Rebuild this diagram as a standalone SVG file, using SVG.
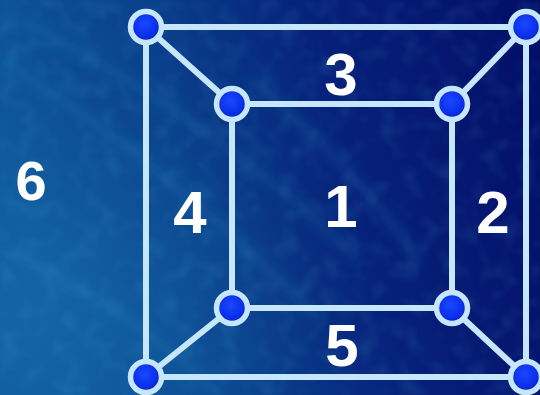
<svg xmlns="http://www.w3.org/2000/svg" width="540" height="395" viewBox="0 0 540 395">
  <defs>
    <linearGradient id="bg" x1="0" y1="0.3" x2="1" y2="0.1">
      <stop offset="0" stop-color="#0e5699"/>
      <stop offset="0.3" stop-color="#0a418c"/>
      <stop offset="0.6" stop-color="#06217a"/>
      <stop offset="1" stop-color="#030e68"/>
    </linearGradient>
    <radialGradient id="glow" cx="0.05" cy="0.8" r="0.55">
      <stop offset="0" stop-color="#1a74b2" stop-opacity="0.5"/>
      <stop offset="1" stop-color="#1a74b2" stop-opacity="0"/>
    </radialGradient>
    <radialGradient id="nodeFill" cx="0.45" cy="0.4" r="0.6">
      <stop offset="0" stop-color="#1a48ff"/>
      <stop offset="0.7" stop-color="#0a2ee8"/>
      <stop offset="1" stop-color="#0620b8"/>
    </radialGradient>
    <filter id="blur" x="-20%" y="-20%" width="140%" height="140%">
      <feGaussianBlur stdDeviation="6"/>
    </filter>
    <filter id="noise" x="0" y="0" width="100%" height="100%">
      <feTurbulence type="fractalNoise" baseFrequency="0.05" numOctaves="2" seed="3" result="n"/>
      <feColorMatrix in="n" type="matrix" values="0 0 0 0 0.1  0 0 0 0 0.5  0 0 0 0 0.7  0 0 0 1.2 -0.55" result="c"/>
      <feGaussianBlur in="c" stdDeviation="1.5"/>
    </filter>
    <style>
      .edge { stroke: #c6e6fb; stroke-width: 6; fill: none; stroke-linecap: round; }
      .node { fill: url(#nodeFill); stroke: #c6e6fb; stroke-width: 5.5; }
      .lbl { font-family: "Liberation Sans", Arial, sans-serif; font-weight: bold; font-size: 60px; fill: #ffffff; text-anchor: middle; }
    </style>
  </defs>

  <g id="background">
    <rect width="540" height="395" fill="url(#bg)"/>
    <rect width="540" height="395" fill="url(#glow)"/>
    <rect width="540" height="395" filter="url(#noise)" opacity="0.25"/>
    <g filter="url(#blur)" stroke="#2a8cc0" stroke-opacity="0.2" fill="none" stroke-width="10">
      <path d="M0 60 Q150 150 320 320"/>
      <path d="M20 20 Q200 110 360 260"/>
      <path d="M0 250 Q120 300 220 395"/>
      <path d="M250 80 Q330 140 420 260"/>
    </g>
  </g>

  <g id="connectors">
    <line class="edge" x1="146" y1="27" x2="526" y2="27"/>
    <line class="edge" x1="146" y1="377" x2="526" y2="377"/>
    <line class="edge" x1="146" y1="27" x2="146" y2="377"/>
    <line class="edge" x1="526" y1="27" x2="526" y2="377"/>
    <line class="edge" x1="232" y1="104" x2="452" y2="104"/>
    <line class="edge" x1="232" y1="308" x2="452" y2="308"/>
    <line class="edge" x1="232" y1="104" x2="232" y2="308"/>
    <line class="edge" x1="452" y1="104" x2="452" y2="308"/>
    <line class="edge" x1="146" y1="27" x2="232" y2="104"/>
    <line class="edge" x1="526" y1="27" x2="452" y2="104"/>
    <line class="edge" x1="146" y1="377" x2="232" y2="308"/>
    <line class="edge" x1="526" y1="377" x2="452" y2="308"/>
  </g>

  <g id="node-outer-tl"><circle class="node" cx="146" cy="27" r="15.5"/></g>
  <g id="node-outer-tr"><circle class="node" cx="526" cy="27" r="15.5"/></g>
  <g id="node-outer-bl"><circle class="node" cx="146" cy="377" r="15.5"/></g>
  <g id="node-outer-br"><circle class="node" cx="526" cy="377" r="15.5"/></g>
  <g id="node-inner-tl"><circle class="node" cx="232" cy="104" r="15.5"/></g>
  <g id="node-inner-tr"><circle class="node" cx="452" cy="104" r="15.5"/></g>
  <g id="node-inner-bl"><circle class="node" cx="232" cy="308" r="15.5"/></g>
  <g id="node-inner-br"><circle class="node" cx="452" cy="308" r="15.5"/></g>

  <g id="labels">
    <text class="lbl" x="341" y="95">3</text>
    <text class="lbl" x="190" y="233">4</text>
    <text class="lbl" x="341" y="227">1</text>
    <text class="lbl" x="493" y="233">2</text>
    <text class="lbl" x="342" y="366">5</text>
    <text class="lbl" x="31" y="200" style="font-size:56px">6</text>
  </g>
</svg>
